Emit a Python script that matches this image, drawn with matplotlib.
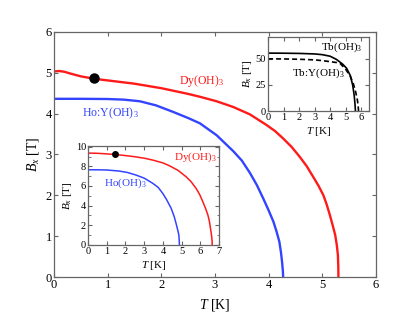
import matplotlib
matplotlib.use("Agg")
import matplotlib.pyplot as plt
from matplotlib.ticker import MultipleLocator

plt.rcParams['font.family'] = ['Liberation Serif', 'DejaVu Serif']
plt.rcParams['mathtext.fontset'] = 'custom'
plt.rcParams['mathtext.rm'] = 'Liberation Serif'
plt.rcParams['mathtext.it'] = 'Liberation Serif:italic'

# Main panel data
dy_T = [0, 0.1, 0.2, 0.3, 0.5, 0.75, 1.0, 1.5, 2.0, 2.5, 2.72, 3.03, 3.34, 3.65, 3.96,
        4.12, 4.27, 4.43, 4.58, 4.71, 4.83, 4.93, 5.02, 5.08, 5.14, 5.19, 5.24, 5.27, 5.29, 5.298, 5.30]
dy_B = [5.03, 5.04, 5.02, 4.98, 4.91, 4.85, 4.81, 4.73, 4.62, 4.48, 4.41, 4.30, 4.16, 3.98, 3.72,
        3.57, 3.39, 3.18, 2.94, 2.71, 2.45, 2.23, 2.0, 1.78, 1.52, 1.28, 1.03, 0.78, 0.54, 0.25, 0.0]
ho_T = [0, 0.5, 1.0, 1.3, 1.6, 1.9, 2.22, 2.5, 2.72, 3.03, 3.34, 3.5, 3.65, 3.78, 3.9, 4.0, 4.09,
        4.15, 4.20, 4.23, 4.25, 4.265, 4.27]
ho_B = [4.36, 4.36, 4.355, 4.34, 4.30, 4.20, 4.04, 3.89, 3.76, 3.47, 3.08, 2.85, 2.55, 2.25, 1.92, 1.63, 1.35,
        1.1, 0.86, 0.6, 0.37, 0.15, 0.0]
dot_main = (0.745, 4.86)

# Lower inset data
idy_T = [0, 0.5, 1.0, 1.44, 1.67, 2.5, 3.0, 3.46, 4.0, 4.35, 4.8, 5.24, 5.5, 5.77, 5.97, 6.13,
         6.28, 6.4, 6.48, 6.54, 6.6, 6.625, 6.63]
idy_B = [9.35, 9.33, 9.27, 9.21, 9.17, 8.98, 8.83, 8.64, 8.35, 8.06, 7.6, 6.94, 6.45, 5.76, 5.1, 4.40,
         3.7, 3.05, 2.4, 1.69, 0.9, 0.4, 0.0]
iho_T = [0, 0.5, 1.0, 1.67, 2.1, 2.57, 3.0, 3.46, 3.75, 3.99, 4.2, 4.44, 4.6, 4.70, 4.8, 4.85, 4.87, 4.88]
iho_B = [7.65, 7.65, 7.63, 7.52, 7.38, 7.11, 6.8, 6.27, 5.85, 5.25, 4.6, 3.73, 2.9, 2.2, 1.45, 1.0, 0.5, 0.0]
dot_inset = (1.44, 9.21)

# Upper inset data
tb_T = [0, 1, 2, 3, 3.5, 4.0, 4.4, 4.8, 5.06, 5.3, 5.45, 5.55, 5.6, 5.63]
tb_B = [55.5, 55.4, 55.2, 54.7, 54.0, 52.5, 49.5, 45, 41, 34, 25, 15, 7, 0]
tby_T = [0, 1, 2, 3, 3.5, 4.0, 4.4, 4.65, 5.0, 5.29, 5.5, 5.65, 5.75, 5.8, 5.83]
tby_B = [50, 49.9, 49.6, 49.0, 48.3, 47.3, 46.5, 45.5, 40, 33.5, 26, 18, 11, 6, 0]

RED = '#ff1a1a'
BLUE = '#3344ff'
SP = '#666666'

fig = plt.figure(figsize=(4.15, 3.21), dpi=100)

def style(ax, fs):
    for s in ax.spines.values():
        s.set_color(SP)
        s.set_linewidth(0.9)
    ax.tick_params(which='both', direction='in', top=True, right=True, color=SP,
                   labelsize=fs, pad=1.5)
    ax.tick_params(which='major', length=3)
    ax.tick_params(which='minor', length=1.8)

ax = fig.add_axes([0.130, 0.137, 0.776, 0.764])
ax.plot(dy_T, dy_B, color=RED, lw=1.7, solid_joinstyle='round')
ax.plot(ho_T, ho_B, color=BLUE, lw=1.7, solid_joinstyle='round')
ax.plot(*dot_main, 'o', color='black', ms=6.5)
ax.set_xlim(0, 6)
ax.set_ylim(0, 6)
ax.xaxis.set_major_locator(MultipleLocator(1))
ax.yaxis.set_major_locator(MultipleLocator(1))
style(ax, 9)
ax.set_xlabel(r'$T$ [K]', fontsize=10, labelpad=4)
ax.set_ylabel(r'$B_x$ [T]', fontsize=10, labelpad=3)
ax.text(2.33, 4.8, r'Dy(OH)$_3$', color=RED, fontsize=8.5, va='center')
ax.text(0.53, 4.0, r'Ho:Y(OH)$_3$', color=BLUE, fontsize=8.5, va='center')

# Lower inset
a2 = fig.add_axes([0.212, 0.237, 0.316, 0.309])
a2.plot(idy_T, idy_B, color=RED, lw=1.1, solid_joinstyle='round')
a2.plot(iho_T, iho_B, color=BLUE, lw=1.1, solid_joinstyle='round')
a2.plot(*dot_inset, 'o', color='black', ms=4)
a2.set_xlim(0, 7)
a2.set_ylim(0, 10.1)
a2.xaxis.set_major_locator(MultipleLocator(1))
a2.yaxis.set_major_locator(MultipleLocator(2))
a2.yaxis.set_minor_locator(MultipleLocator(1))
style(a2, 7.5)
a2.set_xlabel(r'$T$ [K]', fontsize=8, labelpad=2)
a2.set_ylabel(r'$B_x$ [T]', fontsize=8, labelpad=1)
a2.text(4.6, 8.97, r'Dy(OH)$_3$', color=RED, fontsize=8, va='center')
a2.text(0.87, 6.27, r'Ho(OH)$_3$', color=BLUE, fontsize=8, va='center')

# Upper inset
a3 = fig.add_axes([0.646, 0.654, 0.243, 0.231])
a3.plot(tb_T, tb_B, color='black', lw=1.2, solid_joinstyle='round')
a3.plot(tby_T, tby_B, color='black', lw=1.2, ls=(0, (3, 1.8)))
a3.set_xlim(0, 6.5)
a3.set_ylim(0, 71)
a3.xaxis.set_major_locator(MultipleLocator(1))
a3.yaxis.set_major_locator(MultipleLocator(25))
style(a3, 7.5)
a3.set_xlabel(r'$T$ [K]', fontsize=8, labelpad=2)
a3.set_ylabel(r'$B_x$ [T]', fontsize=8, labelpad=1)
a3.text(3.42, 61, r'Tb(OH)$_3$', color='black', fontsize=8, va='center')
a3.text(1.57, 36, r'Tb:Y(OH)$_3$', color='black', fontsize=8, va='center')

fig.savefig('out.png', dpi=100)
